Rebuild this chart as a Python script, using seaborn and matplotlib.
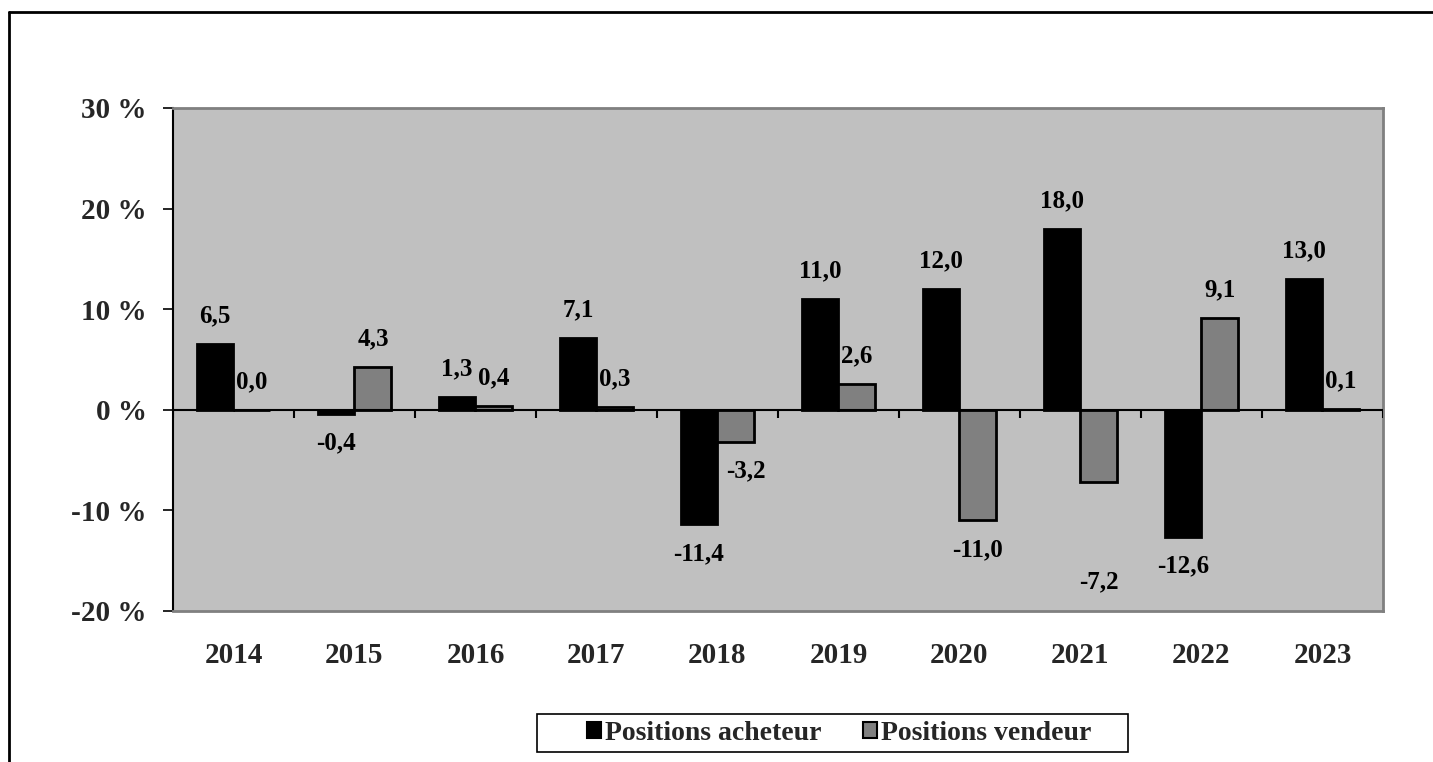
import numpy as np
import pandas as pd
import seaborn as sns
import matplotlib.pyplot as plt
from matplotlib.lines import Line2D
from matplotlib.patches import Patch, Rectangle

years = ["2014", "2015", "2016", "2017", "2018", "2019", "2020", "2021", "2022", "2023"]
acheteur = [6.5, -0.4, 1.3, 7.1, -11.4, 11.0, 12.0, 18.0, -12.6, 13.0]
vendeur = [0.0, 4.3, 0.4, 0.3, -3.2, 2.6, -11.0, -7.2, 9.1, 0.1]
series = ["Positions acheteur", "Positions vendeur"]
y_ticks = [-20, -10, 0, 10, 20, 30]

# extra push for labels that were moved by hand in the original (x in bar units, y in %)
label_nudge = {("Positions vendeur", "2021"): (0, -7.0),
               ("Positions vendeur", "2018"): (0.08, 0)}

df = pd.DataFrame({
    "year": years * 2,
    "value": acheteur + vendeur,
    "serie": [series[0]] * len(years) + [series[1]] * len(years),
})

sns.set_theme(style="white")
plt.rcParams["font.family"] = ["Liberation Serif", "DejaVu Serif"]
plt.rcParams["font.weight"] = "bold"

fig = plt.figure(figsize=(14.33, 7.62), dpi=100)
ax = fig.add_axes([0.1207, 0.1982, 0.8444, 0.6601])
ax.set_facecolor("#c0c0c0")

palette = {series[0]: "#000000", series[1]: "#808080"}
sns.barplot(data=df, x="year", y="value", hue="serie", order=years,
            hue_order=series, palette=palette, width=0.61, gap=0,
            edgecolor="black", linewidth=2, saturation=1, legend=False, ax=ax)

ax.set_ylim(-20, 30)
ax.set_xlim(-0.5, len(years) - 0.5)
ax.set_yticks(y_ticks)
ax.set_yticklabels([f"{t} %" for t in y_ticks], fontsize=21, fontweight="bold")
ax.set_xticks(range(len(years)))
ax.set_xticklabels(years, fontsize=21, fontweight="bold")
ax.tick_params(axis="x", length=0, pad=22)
ax.tick_params(axis="y", direction="out", length=7, width=1.2, color="black",
               left=True, pad=12)
ax.set_xlabel("")
ax.set_ylabel("")

for side in ["top", "right", "bottom"]:
    ax.spines[side].set_color("#808080")
    ax.spines[side].set_linewidth(2)
ax.spines["left"].set_color("black")
ax.spines["left"].set_linewidth(1.5)

# zero line with category separators
ax.axhline(0, color="black", linewidth=1.5, zorder=3)
bounds = np.arange(len(years) + 1) - 0.5
ax.vlines(bounds, 0, -0.8, color="black", linewidth=1.5, zorder=3)

# data labels
for container, name in zip(ax.containers, series):
    for bar, yr in zip(container, years):
        v = bar.get_height()
        cx = bar.get_x() + bar.get_width() / 2
        off = 2.8 if v >= 0 else -2.9
        dx, dy = label_nudge.get((name, yr), (0, 0))
        ax.text(cx + dx, v + off + dy, f"{v:.1f}".replace(".", ","), ha="center",
                va="center", fontsize=18, fontweight="bold", color="black",
                zorder=4)

# legend, Excel style: wide box with roomy padding
handles = [Patch(facecolor=palette[s], edgecolor="black", linewidth=1.5) for s in series]
leg = fig.legend(handles, series, loc="center", bbox_to_anchor=(0.5855, 0.038),
                 ncol=2, frameon=False, fontsize=20,
                 handlelength=0.5, handleheight=0.5, handletextpad=0.15,
                 columnspacing=1.5, borderpad=0.3, borderaxespad=0)
fig.add_artist(Rectangle((537 / 1433, 1 - 752 / 762), 591 / 1433, 38 / 762,
                         transform=fig.transFigure, facecolor="none",
                         edgecolor="black", linewidth=1.2))

# outer frame
fig.add_artist(Line2D([9 / 1433, 9 / 1433], [0, 1 - 12 / 762], color="black",
                      linewidth=2, transform=fig.transFigure))
fig.add_artist(Line2D([9 / 1433, 1], [1 - 12 / 762, 1 - 12 / 762], color="black",
                      linewidth=2, transform=fig.transFigure))

fig.savefig("out.png", dpi=100, facecolor="white")
